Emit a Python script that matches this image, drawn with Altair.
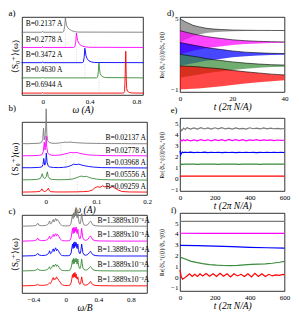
import altair as alt
import pandas as pd

FONT = "Liberation Serif"
NAMES = ["gray", "magenta", "blue", "green", "red"]
COLORS = ["#7a7a7a", "#ff00ff", "#0000ff", "#3a8c3a", "#ff0000"]
OFFSETS = [4, 3, 2, 1, 0]
TAGS = ["a)", "b)", "c)", "d)", "e)", "f)"]

# ---------------- panel a ----------------
A_LABELS = ["B=0.2137 A", "B=0.2778 A", "B=0.3472 A", "B=0.4630 A", "B=0.6944 A"]
A_GRAY = [(-0.18, 0), (-0.006, 0), (0, 0.06), (0.006, 0), (0.17, 0), (0.18, 0.05), (0.188, 0.4), (0.194, 0.95),
          (0.199, 0.7), (0.204, 0.45), (0.214, 0.3), (0.228, 0.2), (0.248, 0.1), (0.272, 0.04), (0.3, 0.01), (0.86, 0)]
A_MAG = [(-0.18, 0), (-0.006, 0), (0, 0.06), (0.006, 0), (0.265, 0), (0.275, 0.05), (0.283, 0.4), (0.288, 0.95),
         (0.293, 0.7), (0.298, 0.45), (0.308, 0.28), (0.322, 0.16), (0.342, 0.08), (0.37, 0.03), (0.4, 0.01), (0.86, 0)]
A_BLUE = [(-0.18, 0), (-0.006, 0), (0, 0.06), (0.006, 0), (0.338, 0), (0.348, 0.05), (0.355, 0.4), (0.36, 0.95),
          (0.365, 0.7), (0.37, 0.45), (0.38, 0.25), (0.395, 0.12), (0.415, 0.05), (0.44, 0.01), (0.86, 0)]
A_GREEN = [(-0.18, 0), (-0.006, 0), (0, 0.05), (0.006, 0), (0.46, 0), (0.469, 0.05), (0.475, 0.4), (0.48, 1.0),
           (0.485, 0.6), (0.49, 0.3), (0.5, 0.15), (0.515, 0.06), (0.535, 0.02), (0.86, 0)]
A_RED = [(-0.18, 0), (-0.006, 0), (0, 0.04), (0.006, 0), (0.69, 0), (0.699, 0.1), (0.704, 1.2), (0.709, 2.75),
         (0.713, 1.0), (0.717, 0.3), (0.724, 0.12), (0.738, 0.05), (0.76, 0.01), (0.86, 0)]
A_GUIDE_X = [0.194, 0.288, 0.36, 0.48, 0.712]
A_GUIDE_LO = [3.0, 2.0, 1.0, 0.0, 0.0]
A_GUIDE_HI = [4.0, 3.0, 2.0, 1.0, 2.7]

# ---------------- panel b ----------------
B_LABELS = ["B=0.02137 A", "B=0.02778 A", "B=0.03968 A", "B=0.05556 A", "B=0.09259 A"]
B_GRAY = [(-0.047, 0.03), (-0.035, 0.02), (-0.025, 0.04), (-0.015, 0.05), (-0.009, 0.1), (-0.006, 0.35),
          (-0.0045, 1.3), (-0.003, 0.35), (-0.0015, 0.6), (0.0, 1.5), (0.0008, 2.9), (0.002, 0.8), (0.004, 0.25),
          (0.007, 0.12), (0.012, 0.06), (0.02, 0.05), (0.027, 0.08), (0.033, 0.12), (0.038, 0.15), (0.043, 0.13),
          (0.048, 0.16), (0.055, 0.12), (0.062, 0.1), (0.07, 0.08), (0.08, 0.06), (0.095, 0.05), (0.11, 0.04),
          (0.13, 0.03), (0.15, 0.03), (0.17, 0.02), (0.2, 0.02)]
B_MAG = [(-0.047, 0.03), (-0.03, 0.03), (-0.015, 0.05), (-0.008, 0.1), (-0.005, 0.35), (-0.003, 1.15),
         (-0.0015, 0.5), (0.0, 1.1), (0.0008, 1.65), (0.002, 0.7), (0.004, 0.25), (0.007, 0.12), (0.012, 0.07),
         (0.02, 0.06), (0.03, 0.1), (0.038, 0.18), (0.045, 0.25), (0.05, 0.3), (0.055, 0.27), (0.06, 0.3),
         (0.066, 0.24), (0.072, 0.18), (0.08, 0.12), (0.09, 0.08), (0.1, 0.06), (0.12, 0.04), (0.14, 0.03),
         (0.17, 0.03), (0.2, 0.02)]
B_BLUE = [(-0.047, 0.04), (-0.03, 0.04), (-0.015, 0.06), (-0.008, 0.1), (-0.0055, 0.3), (-0.004, 0.8),
          (-0.002, 0.25), (0.0, 0.5), (0.001, 1.25), (0.0025, 0.5), (0.0045, 0.2), (0.008, 0.1), (0.015, 0.06),
          (0.025, 0.05), (0.035, 0.07), (0.043, 0.12), (0.05, 0.22), (0.055, 0.33), (0.06, 0.3), (0.065, 0.33),
          (0.07, 0.27), (0.077, 0.2), (0.085, 0.14), (0.095, 0.09), (0.11, 0.05), (0.13, 0.04), (0.15, 0.03),
          (0.2, 0.02)]
B_GREEN = [(-0.047, 0.04), (-0.03, 0.05), (-0.018, 0.07), (-0.011, 0.15), (-0.0085, 0.35), (-0.007, 0.55),
           (-0.005, 0.25), (-0.002, 0.15), (0.001, 0.3), (0.003, 0.7), (0.005, 0.3), (0.008, 0.12), (0.013, 0.07),
           (0.025, 0.05), (0.04, 0.06), (0.052, 0.1), (0.06, 0.2), (0.066, 0.3), (0.07, 0.35), (0.075, 0.3),
           (0.08, 0.33), (0.085, 0.25), (0.09, 0.18), (0.1, 0.1), (0.11, 0.06), (0.13, 0.04), (0.16, 0.03),
           (0.2, 0.02)]
B_RED = [(-0.047, 0.03), (-0.03, 0.04), (-0.018, 0.06), (-0.011, 0.1), (-0.009, 0.2), (-0.0075, 0.3),
         (-0.006, 0.15), (-0.003, 0.08), (0.0, 0.1), (0.003, 0.2), (0.005, 0.35), (0.007, 0.15), (0.01, 0.06),
         (0.02, 0.04), (0.04, 0.04), (0.06, 0.05), (0.075, 0.07), (0.085, 0.1), (0.092, 0.2), (0.097, 0.38),
         (0.102, 0.48), (0.107, 0.42), (0.112, 0.55), (0.117, 0.45), (0.122, 0.52), (0.127, 0.42), (0.132, 0.48),
         (0.137, 0.35), (0.142, 0.22), (0.15, 0.08), (0.165, 0.04), (0.2, 0.03)]
B_GUIDE_X = [0.03, 0.04, 0.048, 0.062, 0.095]
B_GUIDE_LO = [3.0, 2.0, 1.0, 0.0, -0.2]
B_GUIDE_HI = [4.0, 3.0, 2.0, 1.0, 0.0]

# ---------------- panel c ----------------
C_LABELS = ["B=1.3889x10\u207b\u2076A", "B=1.3889x10\u207b\u2075A", "B=1.3889x10\u207b\u2074A",
            "B=1.3889x10\u207b\u00b3A", "B=1.3889x10\u207b\u00b2A"]
C_W = [-0.54, -0.4, -0.37, -0.355, -0.345, -0.335, -0.3, -0.25, -0.225, -0.21,
       -0.2, -0.19, -0.175, -0.165, -0.155, -0.145, -0.135, -0.125, -0.115, -0.105,
       -0.095, -0.085, -0.07, -0.055, -0.04, -0.02, 0.0, 0.03, 0.05, 0.065,
       0.075, 0.082, 0.09, 0.097, 0.105, 0.112, 0.12, 0.127, 0.133, 0.14,
       0.148, 0.155, 0.165, 0.175, 0.185, 0.195, 0.202, 0.21, 0.225, 0.245,
       0.27, 0.29, 0.305, 0.315, 0.33, 0.36, 0.42, 0.6, 1.0]
C_GRAY = [0, 0.02, 0.05, 0.12, 0.2, 0.08, 0.03, 0.05, 0.1, 0.22,
          0.35, 0.15, 0.2, 0.35, 0.45, 0.28, 0.4, 0.52, 0.35, 0.45,
          0.38, 0.3, 0.15, 0.07, 0.03, 0.02, 0.02, 0.02, 0.05, 0.2,
          0.55, 0.8, 0.5, 0.9, 0.6, 0.95, 0.7, 1.25, 0.7, 0.55,
          0.85, 0.5, 0.2, 0.15, 0.35, 0.85, 0.6, 0.25, 0.08, 0.05,
          0.1, 0.25, 0.35, 0.25, 0.1, 0.03, 0.01, 0, 0]
C_MAG = [0, 0.02, 0.05, 0.12, 0.2, 0.08, 0.03, 0.05, 0.1, 0.22,
         0.33, 0.15, 0.22, 0.38, 0.45, 0.3, 0.42, 0.5, 0.35, 0.45,
         0.4, 0.3, 0.15, 0.07, 0.03, 0.02, 0.02, 0.02, 0.05, 0.22,
         0.6, 0.85, 0.5, 0.92, 0.55, 0.9, 0.65, 0.95, 0.6, 0.5,
         0.8, 0.45, 0.2, 0.15, 0.35, 0.85, 0.55, 0.22, 0.08, 0.05,
         0.1, 0.25, 0.35, 0.25, 0.1, 0.03, 0.01, 0, 0]
C_BLUE = [0, 0.02, 0.05, 0.12, 0.18, 0.08, 0.03, 0.05, 0.1, 0.22,
          0.35, 0.15, 0.22, 0.38, 0.48, 0.3, 0.45, 0.55, 0.35, 0.45,
          0.38, 0.28, 0.14, 0.06, 0.03, 0.02, 0.02, 0.02, 0.05, 0.2,
          0.55, 0.8, 0.5, 0.9, 0.55, 0.95, 0.65, 0.9, 0.6, 0.5,
          0.8, 0.45, 0.2, 0.15, 0.35, 0.8, 0.55, 0.22, 0.08, 0.05,
          0.1, 0.22, 0.32, 0.22, 0.1, 0.03, 0.01, 0, 0]
C_GREEN = [0, 0.02, 0.05, 0.1, 0.15, 0.07, 0.03, 0.05, 0.1, 0.2,
           0.28, 0.12, 0.2, 0.32, 0.4, 0.28, 0.38, 0.45, 0.3, 0.4,
           0.35, 0.25, 0.12, 0.06, 0.03, 0.02, 0.02, 0.02, 0.05, 0.2,
           0.5, 0.75, 0.45, 0.85, 0.5, 0.8, 0.6, 0.85, 0.55, 0.45,
           0.8, 0.45, 0.2, 0.15, 0.35, 0.8, 0.5, 0.2, 0.08, 0.05,
           0.1, 0.22, 0.3, 0.22, 0.1, 0.03, 0.01, 0, 0]
C_RED = [0, 0.02, 0.04, 0.07, 0.1, 0.05, 0.03, 0.05, 0.08, 0.15,
         0.2, 0.15, 0.3, 0.45, 0.55, 0.4, 0.5, 0.45, 0.6, 0.5,
         0.45, 0.35, 0.25, 0.12, 0.06, 0.03, 0.02, 0.02, 0.05, 0.2,
         0.5, 0.75, 0.55, 0.85, 0.6, 0.9, 0.55, 0.8, 0.5, 0.45,
         0.6, 0.35, 0.15, 0.1, 0.25, 0.6, 0.4, 0.18, 0.06, 0.05,
         0.08, 0.2, 0.3, 0.2, 0.08, 0.03, 0.01, 0, 0]

# ---------------- panel d ----------------
D_T = [0, 1, 2, 3, 5, 7, 10, 13, 16, 20, 25, 30, 35, 40]
D_AMP = [
    [1, 0.88, 0.76, 0.66, 0.45, 0.34, 0.2, 0.13, 0.09, 0.05, 0.03, 0.02, 0.015, 0.01],
    [1, 0.94, 0.88, 0.83, 0.72, 0.63, 0.5, 0.41, 0.33, 0.22, 0.14, 0.09, 0.06, 0.04],
    [1, 0.95, 0.9, 0.86, 0.77, 0.69, 0.56, 0.47, 0.39, 0.27, 0.17, 0.11, 0.07, 0.05],
    [1, 0.96, 0.92, 0.88, 0.82, 0.75, 0.62, 0.53, 0.45, 0.34, 0.24, 0.16, 0.1, 0.07],
    [1, 0.99, 0.98, 0.97, 0.95, 0.92, 0.85, 0.8, 0.74, 0.62, 0.5, 0.4, 0.3, 0.23],
]

# ---------------- panel e ----------------
E_T = [0, 4, 8, 14, 20, 30] + list(range(40, 601, 20))
E_VALS = [
    [4.85, 4.55, 4.38, 4.45, 4.62, 4.5,
     4.66, 4.52, 4.64, 4.53, 4.66, 4.54, 4.63, 4.52, 4.65, 4.55, 4.66, 4.54, 4.62, 4.53, 4.64,
     4.55, 4.6, 4.53, 4.65, 4.56, 4.62, 4.54, 4.63, 4.55, 4.61, 4.56, 4.6, 4.55, 4.58],
    [3.3, 3.38, 3.5, 3.45, 3.55, 3.45,
     3.55, 3.44, 3.53, 3.45, 3.56, 3.46, 3.54, 3.44, 3.56, 3.47, 3.55, 3.45, 3.57, 3.46, 3.55,
     3.47, 3.56, 3.45, 3.54, 3.48, 3.55, 3.46, 3.53, 3.49, 3.54, 3.47, 3.52, 3.49, 3.5],
    [2.55, 2.15, 2.3, 2.42, 2.35, 2.4,
     2.37, 2.4, 2.36, 2.39, 2.37, 2.4, 2.36, 2.39, 2.37, 2.39, 2.36, 2.38, 2.37, 2.39, 2.36,
     2.38, 2.37, 2.39, 2.37, 2.38, 2.36, 2.38, 2.37, 2.38, 2.37, 2.38, 2.37, 2.38, 2.37],
    [1.05, 1.22, 1.3, 1.28, 1.3, 1.29,
     1.3, 1.29, 1.3, 1.28, 1.3, 1.29, 1.3, 1.29, 1.3, 1.28, 1.29, 1.3, 1.29, 1.3, 1.29,
     1.28, 1.3, 1.29, 1.3, 1.29, 1.3, 1.28, 1.29, 1.3, 1.29, 1.3, 1.29, 1.3, 1.29],
    [0.1, 0.18, 0.2, 0.19, 0.2, 0.19,
     0.2, 0.19, 0.2, 0.2, 0.19, 0.2, 0.2, 0.19, 0.2, 0.2, 0.19, 0.2, 0.2, 0.19, 0.2,
     0.2, 0.19, 0.2, 0.2, 0.19, 0.2, 0.2, 0.19, 0.2, 0.2, 0.19, 0.2, 0.2, 0.19],
]

# ---------------- panel f ----------------
F_GRAY = [(0, 5.17), (100, 5.18), (200, 5.17), (300, 5.18), (400, 5.17), (500, 5.18), (600, 5.17)]
F_MAG = [(0, 4.07), (150, 4.06), (300, 4.06), (450, 4.05), (600, 4.05)]
F_BLUE = [(0, 2.95), (100, 2.92), (200, 2.87), (300, 2.82), (400, 2.76), (500, 2.72), (600, 2.68)]
F_GREEN = [(0, 1.85), (30, 1.68), (64, 1.45), (100, 1.33), (130, 1.25), (170, 1.16), (210, 1.1), (250, 1.07),
           (290, 1.06), (330, 1.08), (370, 1.13), (410, 1.18), (450, 1.2), (490, 1.22), (530, 1.28),
           (570, 1.37), (600, 1.45)]
F_RED = [(0, 0.65), (8, 0.0), (15, -0.2), (25, -0.1), (40, 0.1), (55, 0.3), (70, 0.05), (85, 0.25), (100, 0.05),
         (115, 0.3), (130, 0.1), (150, 0.32), (170, 0.08), (190, 0.3), (210, 0.05), (230, 0.35), (250, 0.08),
         (270, 0.3), (290, 0.0), (310, 0.3), (330, 0.1), (350, 0.25), (370, 0.05), (390, 0.3), (410, 0.0),
         (430, 0.35), (450, 0.05), (470, 0.3), (490, 0.05), (510, 0.25), (530, 0.1), (550, 0.2), (570, 0.15),
         (590, 0.25), (600, 0.2)]

R_TITLE = "Re[\u27e8S\u2080\u207a(t)\u27e9]/\u27e8S\u2080\u207a(0)\u27e9"
L_TITLE = "\u27e8S\u2080\u207a\u27e9(\u03c9)"


def color_enc():
    return alt.Color("s:N", scale=alt.Scale(domain=NAMES, range=COLORS), legend=None)


def xaxis(values, title):
    return alt.Axis(values=values, title=title, format="~f", labelFlush=False, labelOverlap=False,
                    ticks=False, domain=False, grid=False, labelFontSize=7, labelPadding=2,
                    titleFontSize=9.5, titleFontStyle="italic", titleFontWeight="normal", titlePadding=0,
                    labelFont=FONT, titleFont=FONT, labelColor="black", titleColor="black")


def left_yaxis():
    return alt.Axis(title=L_TITLE, labels=False, ticks=False, domain=False, grid=False,
                    titleFontSize=9, titleFont=FONT, titleFontWeight="normal", titlePadding=3,
                    titleColor="black")


def right_yaxis():
    return alt.Axis(values=[-1, 0, 1, 2, 3, 4, 5], title=R_TITLE, ticks=False, domain=False, grid=False,
                    labelFontSize=7, labelPadding=2, labelFont=FONT, labelColor="black",
                    titleFontSize=5.5, titleFont=FONT, titleFontWeight="normal", titlePadding=6,
                    titleColor="black")


def tag_layer(tag, dx, dy, size=9):
    return alt.Chart(pd.DataFrame({"t": [tag]})).mark_text(
        align="left", baseline="middle", font=FONT, fontSize=size, color="black"
    ).encode(text="t:N", x=alt.value(dx), y=alt.value(dy))


def curves_df(curves, offsets):
    rows = []
    for name, off, pts in zip(NAMES, offsets, curves):
        for x, v in pts:
            rows.append({"x": x, "y": v + off, "s": name})
    return pd.DataFrame(rows)


def spectral(curves, labels, lab_x, lab_dy, lab_align, gx, glo, ghi, xdom, ydom, xticks, xtitle,
             w, h, tag, tag_dy):
    X = alt.X("x:Q", scale=alt.Scale(domain=xdom, nice=False, zero=False), axis=xaxis(xticks, xtitle))
    Y = alt.Y("y:Q", scale=alt.Scale(domain=ydom, nice=False, zero=False), axis=left_yaxis())
    guides = alt.Chart(pd.DataFrame({"x": gx, "y": glo, "y2": ghi})).mark_rule(
        color="#c4c4c4", strokeDash=[1, 1.5], strokeWidth=0.7).encode(x=X, y=Y, y2="y2:Q")
    lines = alt.Chart(curves_df(curves, OFFSETS)).mark_line(strokeWidth=0.9).encode(
        x="x:Q", y="y:Q", color=color_enc())
    texts = alt.Chart(pd.DataFrame({"x": [lab_x] * 5, "y": [o + lab_dy for o in OFFSETS], "t": labels})).mark_text(
        align=lab_align, baseline="middle", font=FONT, fontSize=7.5, color="black").encode(
        x="x:Q", y="y:Q", text="t:N")
    return alt.layer(guides, lines, texts, tag_layer(tag, -13.5, tag_dy)).properties(width=w, height=h)


# ---------- left column ----------
chart_a = spectral([A_GRAY, A_MAG, A_BLUE, A_GREEN, A_RED], A_LABELS, -0.145, 0.52, "left",
                   A_GUIDE_X, A_GUIDE_LO, A_GUIDE_HI, [-0.176, 0.856], [-0.125, 5.0],
                   [0, 0.2, 0.4, 0.6, 0.8], "\u03c9 (A)", 121, 78, TAGS[0], -4.25)
chart_b = spectral([B_GRAY, B_MAG, B_BLUE, B_GREEN, B_RED], B_LABELS, 0.198, 0.45, "right",
                   B_GUIDE_X, B_GUIDE_LO, B_GUIDE_HI, [-0.047, 0.2], [-0.21, 5.81],
                   [0, 0.05, 0.1, 0.15, 0.2], "\u03c9 (A)", 125, 73, TAGS[1], -14.2)
c_curves = [list(zip(C_W, vals)) for vals in [C_GRAY, C_MAG, C_BLUE, C_GREEN, C_RED]]
chart_c = spectral(c_curves, C_LABELS, 0.39, 0.38, "left",
                   [], [], [], [-0.54, 1.0], [-0.48, 4.75],
                   [-0.4, -0.2, 0, 0.2, 0.4, 0.6, 0.8], "\u03c9/B", 125, 78, TAGS[2], -3.6)

# ---------- right column ----------
def time_x(domain, values, w):
    return alt.X("x:Q", scale=alt.Scale(domain=domain, nice=False, zero=False),
                 axis=xaxis(values, "t (2\u03c0 N/A)"))


def panel_d(w, h):
    X = time_x([0, 40], [0, 10, 20, 30, 40], w)
    Y = alt.Y("y:Q", scale=alt.Scale(domain=[-1.22, 5.16], nice=False, zero=False), axis=right_yaxis())
    layers = []
    for i, (name, off) in enumerate(zip(NAMES, OFFSETS)):
        df = pd.DataFrame({"x": D_T, "y": [off - a for a in D_AMP[i]], "y2": [off + a for a in D_AMP[i]],
                           "s": name})
        enc_x = X if i == 0 else alt.X("x:Q")
        enc_y = Y if i == 0 else alt.Y("y:Q")
        layers.append(alt.Chart(df).mark_area(opacity=0.72).encode(x=enc_x, y=enc_y, y2="y2:Q",
                                                                    color=color_enc()))
        layers.append(alt.Chart(df).mark_line(color="black", strokeWidth=0.6).encode(
            x="x:Q", y="y2:Q"))
    layers.append(tag_layer(TAGS[3], -13, -4.5, 8.5))
    return alt.layer(*layers).properties(width=w, height=h)


def panel_lines(curves, ydom, w, h, tag, tag_dy):
    X = time_x([0, 600], [0, 200, 400, 600], w)
    Y = alt.Y("y:Q", scale=alt.Scale(domain=ydom, nice=False, zero=False), axis=right_yaxis())
    lines = alt.Chart(curves_df(curves, [0] * 5)).mark_line(strokeWidth=1.2).encode(
        x=X, y=Y, color=color_enc())
    return alt.layer(lines, tag_layer(tag, -9.3, tag_dy, 8.5)).properties(width=w, height=h)


RW = 104.5
chart_d = panel_d(RW, 75)
e_curves = [list(zip(E_T, vals)) for vals in E_VALS]
chart_e = panel_lines(e_curves, [-1.18, 5.55], RW, 73, TAGS[4], -7.6)
chart_f = panel_lines([F_GRAY, F_MAG, F_BLUE, F_GREEN, F_RED], [-1.3, 5.95], RW, 78, TAGS[5], -3.5)

left = alt.vconcat(chart_a, alt.vconcat(chart_b, chart_c, spacing=20, bounds="flush"),
                   spacing=27, bounds="flush")
right = alt.vconcat(chart_d, alt.vconcat(chart_e, chart_f, spacing=22, bounds="flush"),
                    spacing=26, bounds="flush")

chart = alt.hconcat(left, right, spacing=7).properties(
    padding={"left": 0, "top": 0, "right": 0, "bottom": 0}
).configure(font=FONT, background="white").configure_view(stroke="black", strokeWidth=0.8)

chart.save("out.html", embed_options={"renderer": "svg", "actions": False})
